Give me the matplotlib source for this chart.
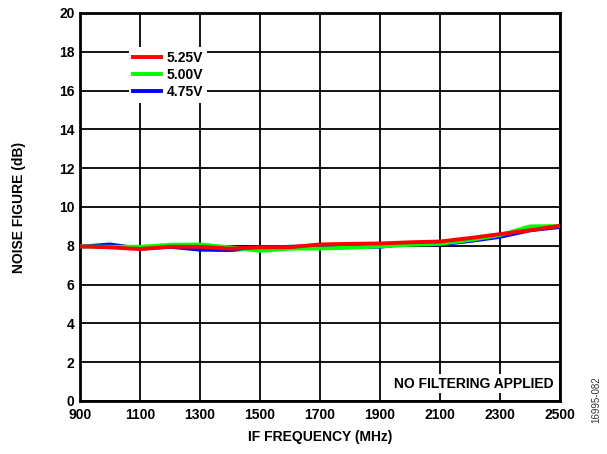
import matplotlib
matplotlib.use("Agg")
import matplotlib.pyplot as plt

plt.rcParams["font.family"] = ["Liberation Sans", "DejaVu Sans"]
plt.rcParams["font.weight"] = "bold"

freq_mhz = [900, 1000, 1100, 1200, 1300, 1400, 1500, 1600, 1700,
            1800, 1900, 2000, 2100, 2200, 2300, 2400, 2500]
nf_525 = [7.97, 7.92, 7.83, 7.95, 7.95, 7.85, 7.92, 7.93, 8.07,
          8.10, 8.12, 8.18, 8.22, 8.40, 8.60, 8.80, 9.03]
nf_500 = [7.97, 7.95, 7.95, 8.05, 8.07, 7.92, 7.74, 7.85, 7.86,
          7.90, 7.97, 8.05, 8.10, 8.30, 8.55, 9.00, 9.02]
nf_475 = [7.95, 8.07, 7.85, 7.95, 7.80, 7.78, 7.90, 7.95, 7.98,
          7.95, 7.95, 8.12, 8.07, 8.25, 8.46, 8.80, 8.97]
x_ticks = [900, 1100, 1300, 1500, 1700, 1900, 2100, 2300, 2500]
y_ticks = [0, 2, 4, 6, 8, 10, 12, 14, 16, 18, 20]

fig = plt.figure(figsize=(6.07, 4.54), dpi=100)
ax = fig.add_axes([80 / 607, 1 - 401 / 454, 480 / 607, 388 / 454])

ax.plot(freq_mhz, nf_475, color="#0000ff", lw=2.8, label="4.75V", zorder=3)
ax.plot(freq_mhz, nf_500, color="#00ff00", lw=2.8, label="5.00V", zorder=4)
ax.plot(freq_mhz, nf_525, color="#ff0000", lw=2.8, label="5.25V", zorder=5)

ax.set_xlim(900, 2500)
ax.set_ylim(0, 20)
ax.set_xticks(x_ticks)
ax.set_yticks(y_ticks)
ax.tick_params(axis="x", length=0, labelsize=10, pad=5)
ax.tick_params(axis="y", length=0, labelsize=10, pad=4)
ax.grid(True, color="black", lw=1.3)
for s in ax.spines.values():
    s.set_linewidth(2)
    s.set_color("black")

ax.set_xlabel("IF FREQUENCY (MHz)", fontsize=10, fontweight="bold", labelpad=6)
ax.set_ylabel("NOISE FIGURE (dB)", fontsize=10, fontweight="bold", labelpad=24)

h, l = ax.get_legend_handles_labels()
leg = ax.legend(h[::-1], l[::-1], loc="upper left",
                bbox_to_anchor=((122 - 80) / 480, (401 - 40) / 388),
                fontsize=10, handlelength=2.0, handletextpad=0.4,
                labelspacing=0.2, borderpad=0.3, fancybox=False,
                framealpha=1, edgecolor="white")
leg.get_frame().set_linewidth(0)
leg.set_zorder(6)

ax.text(2480, 0.9, "NO FILTERING APPLIED", ha="right", va="center",
        fontsize=10, fontweight="bold", zorder=6,
        bbox=dict(facecolor="white", edgecolor="none", pad=2))

fig.text(596 / 607, 1 - 400 / 454, "16995-082", rotation=90, ha="center",
         va="center", fontsize=7, fontweight="normal", color="#333333")

fig.savefig("out.png", dpi=100)
